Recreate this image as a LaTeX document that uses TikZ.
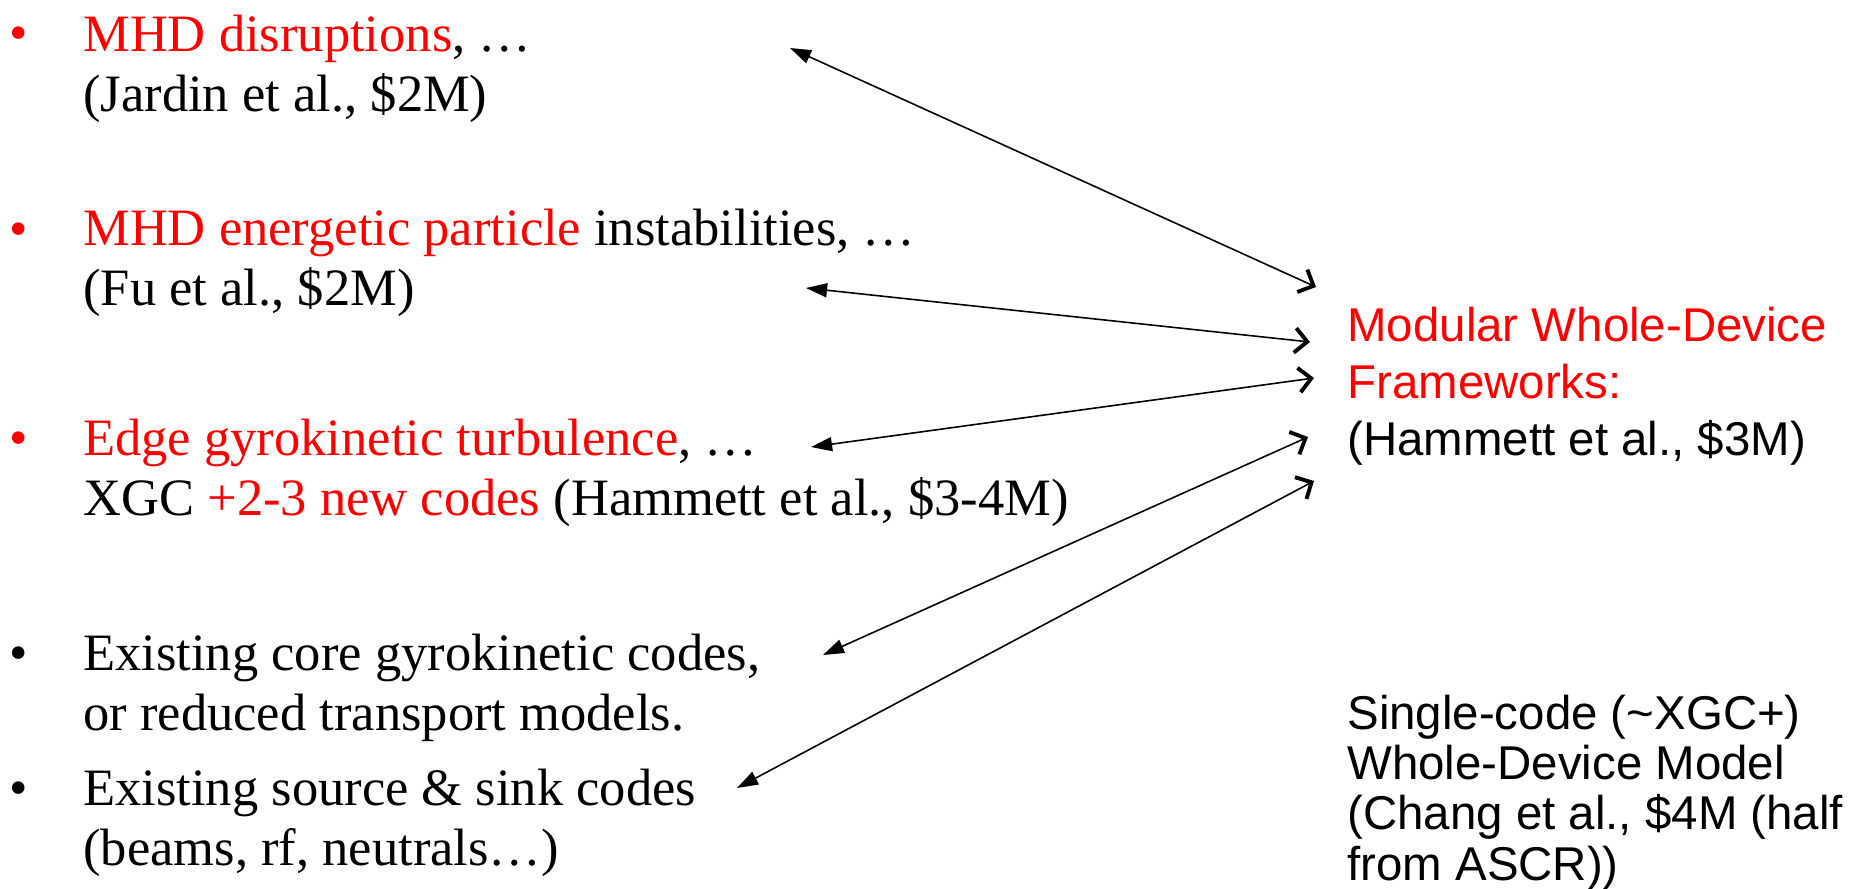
\documentclass[tikz,border=0pt]{standalone}
\usepackage{fontspec}
\setmainfont{Liberation Serif}
\newfontfamily\arialfont{Liberation Sans}
\usetikzlibrary{arrows.meta,positioning}

\begin{document}
\begin{tikzpicture}[
    x=0.02cm, y=-0.02cm,
    item/.style={anchor=base west, inner sep=0pt, align=left,
                 font=\fontsize{29.9}{34.1}\selectfont},
    dot/.style={anchor=base, inner sep=0pt,
                font=\fontsize{29.9}{34.1}\selectfont},
    side/.style={anchor=base west, inner sep=0pt, align=left,
                 font=\arialfont\fontsize{27}{32.4}\selectfont},
    link/.style={{Triangle[length=12pt,width=8pt]}-{Straight Barb[length=7pt,width=14pt,line width=2.2pt]},
                 line width=0.9pt}
  ]
  \useasboundingbox (0,0) rectangle (1864,889);

  % bullets
  \node (b1) [dot, red] at (19,51)  {•};
  \node (b2) [dot, red] at (19,246) {•};
  \node (b3) [dot, red] at (19,455) {•};
  \node (b4) [dot]      at (19,670) {•};
  \node (b5) [dot]      at (19,805) {•};

  % left column (anchored on the last line)
  \node (t1) [item] at (83,111) {\textcolor{red}{MHD disruptions}, …\\(Jardin et al., \$2M)};
  \node (t2) [item] at (83,305) {\textcolor{red}{MHD energetic particle} instabilities, …\\(Fu et al., \$2M)};
  \node (t3) [item] at (83,515) {\textcolor{red}{Edge gyrokinetic turbulence}, …\\XGC \textcolor{red}{+2-3 new codes} (Hammett et al., \$3-4M)};
  \node (t4) [item] at (83,730) {Existing core gyrokinetic codes,\\or reduced transport models.};
  \node (t5) [item] at (83,865) {Existing source \& sink codes\\(beams, rf, neutrals…)};

  % right column
  \node (fw) [side] at (1347,455) {\textcolor{red}{Modular Whole-Device}\\\textcolor{red}{Frameworks:}\\(Hammett et al., \$3M)};
  \node (wd) [side, font=\arialfont\fontsize{27}{28.5}\selectfont] at (1347,880)
    {Single-code (\textasciitilde XGC+)\\Whole-Device Model\\(Chang et al., \$4M (half\\from ASCR))};

  % arrow ends
  \coordinate (l1) at (790,48);  \coordinate (r1) at (1316,287);
  \coordinate (l2) at (806,288); \coordinate (r2) at (1310,342);
  \coordinate (l3) at (811,447); \coordinate (r3) at (1314,378);
  \coordinate (l4) at (823,655); \coordinate (r4) at (1308,437);
  \coordinate (l5) at (737,788); \coordinate (r5) at (1314,481);

  \foreach \i in {1,...,5}
    \draw[link] (l\i) -- (r\i);
\end{tikzpicture}
\end{document}
